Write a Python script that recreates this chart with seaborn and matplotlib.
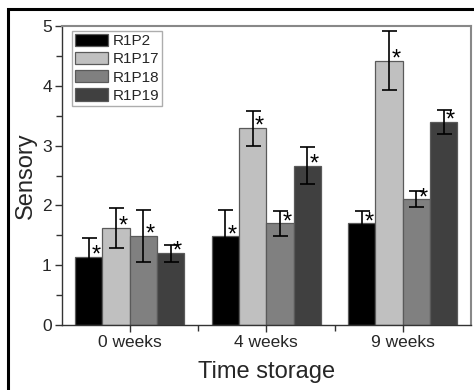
import numpy as np
import pandas as pd
import matplotlib
matplotlib.use("Agg")
import matplotlib.pyplot as plt
import seaborn as sns
from matplotlib.patches import Rectangle
from matplotlib.ticker import MultipleLocator, FixedLocator

categories = ["0 weeks", "4 weeks", "9 weeks"]
series = ["R1P2", "R1P17", "R1P18", "R1P19"]
means = {
    "R1P2":  [1.14, 1.48, 1.70],
    "R1P17": [1.62, 3.29, 4.42],
    "R1P18": [1.49, 1.70, 2.10],
    "R1P19": [1.20, 2.66, 3.40],
}
errors = {
    "R1P2":  [0.31, 0.45, 0.21],
    "R1P17": [0.33, 0.29, 0.49],
    "R1P18": [0.44, 0.21, 0.135],
    "R1P19": [0.14, 0.31, 0.20],
}
colors = ["#000000", "#c0c0c0", "#808080", "#404040"]

sns.set_theme(style="white")
plt.rcParams["font.family"] = ["Liberation Sans", "DejaVu Sans"]

rows = []
for s in series:
    for c, m in zip(categories, means[s]):
        rows.append({"Time storage": c, "Sensory": m, "Sample": s})
df = pd.DataFrame(rows)

fig = plt.figure(figsize=(4.74, 3.9), dpi=100)
ax = fig.add_axes([61.5/474, 65/390, (471-61.5)/474, (325-26)/390])

sns.barplot(data=df, x="Time storage", y="Sensory", hue="Sample",
            order=categories, hue_order=series, palette=colors,
            saturation=1, errorbar=None, width=0.8,
            edgecolor="#5a5a5a", linewidth=0.9, ax=ax)

for cont, s in zip(ax.containers, series):
    xs = [b.get_x() + b.get_width()/2 for b in cont]
    tops = [b.get_height() for b in cont]
    ax.errorbar(xs, tops, yerr=errors[s], fmt="none", ecolor="black",
                elinewidth=1.2, capsize=5.4, capthick=1.2, zorder=5)
    for x, t in zip(xs, tops):
        ax.annotate("*", (x, t), xytext=(5, -7), textcoords="offset points",
                    ha="center", va="bottom", fontsize=17, color="black", zorder=6)

ax.set_xlim(-0.5, 2.5)
ax.set_ylim(0, 5)
ax.yaxis.set_major_locator(MultipleLocator(1))
ax.yaxis.set_minor_locator(MultipleLocator(0.5))
ax.xaxis.set_minor_locator(FixedLocator([0.5, 1.5]))
ax.tick_params(axis="both", which="major", direction="out", length=5, width=1,
               color="#333333", labelsize=12.5, pad=2, bottom=True, left=True)
ax.tick_params(axis="both", which="minor", direction="out", length=4, width=1,
               color="#333333", bottom=True, left=True)
ax.set_xlabel("Time storage", fontsize=17, labelpad=8)
ax.set_ylabel("Sensory", fontsize=17, labelpad=4)

for side in ["left", "bottom"]:
    ax.spines[side].set_color("#333333")
    ax.spines[side].set_linewidth(1.0)
for side in ["top", "right"]:
    ax.spines[side].set_color("#888888")
    ax.spines[side].set_linewidth(1.5)

leg = ax.legend(loc="upper left", bbox_to_anchor=((72-61.5)/409.5, (325-30.7)/299),
                borderaxespad=0, fontsize=11, frameon=True, fancybox=False,
                handlelength=2.15, handleheight=0.85, handletextpad=0.3,
                labelspacing=0.25, borderpad=0.2, title=None)
leg.get_frame().set_edgecolor("#999999")
leg.get_frame().set_linewidth(1.0)

fig.patches.append(Rectangle((8/474, -0.05), 1.0, (390-9)/390 + 0.05,
                             transform=fig.transFigure, fill=False,
                             edgecolor="black", linewidth=2.2))

fig.savefig("out.png", dpi=100)
